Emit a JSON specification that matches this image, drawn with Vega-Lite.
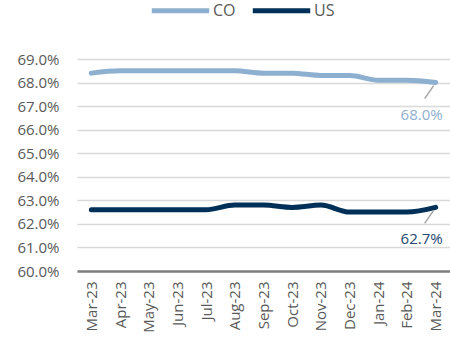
{
  "$schema": "https://vega.github.io/schema/vega-lite/v6.json",
  "width": 373,
  "height": 212,
  "autosize": "none",
  "padding": {"left": 77, "top": 59, "right": 0, "bottom": 74},
  "background": "white",
  "config": {
    "view": {"stroke": null},
    "font": "Open Sans"
  },
  "data": {
    "values": [
      {"month": "Mar-23", "series": "CO", "value": 0.684},
      {"month": "Apr-23", "series": "CO", "value": 0.685},
      {"month": "May-23", "series": "CO", "value": 0.685},
      {"month": "Jun-23", "series": "CO", "value": 0.685},
      {"month": "Jul-23", "series": "CO", "value": 0.685},
      {"month": "Aug-23", "series": "CO", "value": 0.685},
      {"month": "Sep-23", "series": "CO", "value": 0.684},
      {"month": "Oct-23", "series": "CO", "value": 0.684},
      {"month": "Nov-23", "series": "CO", "value": 0.683},
      {"month": "Dec-23", "series": "CO", "value": 0.683},
      {"month": "Jan-24", "series": "CO", "value": 0.681},
      {"month": "Feb-24", "series": "CO", "value": 0.681},
      {"month": "Mar-24", "series": "CO", "value": 0.680},
      {"month": "Mar-23", "series": "US", "value": 0.626},
      {"month": "Apr-23", "series": "US", "value": 0.626},
      {"month": "May-23", "series": "US", "value": 0.626},
      {"month": "Jun-23", "series": "US", "value": 0.626},
      {"month": "Jul-23", "series": "US", "value": 0.626},
      {"month": "Aug-23", "series": "US", "value": 0.628},
      {"month": "Sep-23", "series": "US", "value": 0.628},
      {"month": "Oct-23", "series": "US", "value": 0.627},
      {"month": "Nov-23", "series": "US", "value": 0.628},
      {"month": "Dec-23", "series": "US", "value": 0.625},
      {"month": "Jan-24", "series": "US", "value": 0.625},
      {"month": "Feb-24", "series": "US", "value": 0.625},
      {"month": "Mar-24", "series": "US", "value": 0.627}
    ]
  },
  "encoding": {
    "x": {
      "field": "month",
      "type": "ordinal",
      "sort": null,
      "scale": {"type": "point", "padding": 0.5},
      "axis": {
        "title": null,
        "labelAngle": -90,
        "labelFontSize": 15,
        "labelColor": "#595959",
        "labelPadding": 10,
        "ticks": false,
        "domainColor": "#808080",
        "domainWidth": 2.5,
        "grid": false
      }
    },
    "y": {
      "field": "value",
      "type": "quantitative",
      "scale": {"domain": [0.6, 0.69], "nice": false, "zero": false},
      "axis": {
        "title": null,
        "values": [0.6, 0.61, 0.62, 0.63, 0.64, 0.65, 0.66, 0.67, 0.68, 0.69],
        "format": ".1%",
        "labelFontSize": 15,
        "labelColor": "#595959",
        "labelPadding": 18,
        "ticks": false,
        "domain": false,
        "grid": true,
        "gridColor": "#d9d9d9",
        "gridWidth": 1.5
      }
    }
  },
  "layer": [
    {
      "mark": {"type": "line", "interpolate": "monotone", "strokeWidth": 5, "strokeCap": "round"},
      "encoding": {
        "color": {
          "field": "series",
          "type": "nominal",
          "scale": {"domain": ["CO", "US"], "range": ["#8eb0d0", "#003057"]},
          "legend": {
            "title": null,
            "orient": "none",
            "direction": "horizontal",
            "legendX": 72,
            "legendY": -80,
            "symbolType": "stroke",
            "symbolSize": 3300,
            "symbolStrokeWidth": 5,
            "labelFontSize": 16,
            "labelColor": "#595959",
            "labelOffset": 1,
            "columnPadding": 6
          }
        }
      }
    },
    {
      "transform": [{"filter": "datum.month === 'Mar-24'"}],
      "mark": {"type": "rule", "color": "#a6a6a6", "strokeWidth": 1.5, "xOffset": -2, "yOffset": 3, "x2Offset": -11, "y2Offset": 16},
      "encoding": {
        "x2": {"field": "month"},
        "y2": {"field": "value"}
      }
    },
    {
      "transform": [{"filter": "datum.month === 'Mar-24'"}],
      "mark": {"type": "text", "align": "center", "baseline": "middle", "fontSize": 15},
      "encoding": {
        "text": {"field": "value", "type": "quantitative", "format": ".1%"},
        "color": {"condition": {"test": "datum.series === 'CO'", "value": "#8eb0d0"}, "value": "#234670"},
        "xOffset": {"value": -14},
        "yOffset": {"value": 32}
      }
    }
  ]
}
